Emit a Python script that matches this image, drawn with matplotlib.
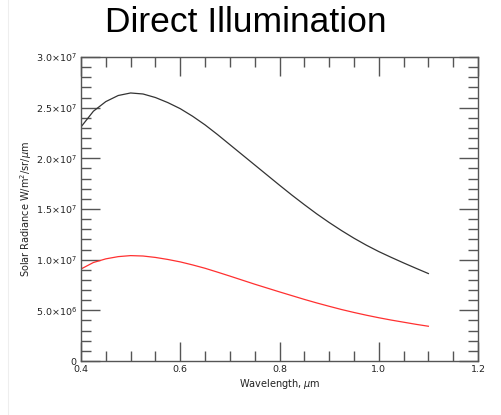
import matplotlib
matplotlib.use("Agg")
import matplotlib.pyplot as plt
from matplotlib.ticker import MultipleLocator, FuncFormatter
from matplotlib.lines import Line2D

# Wavelength grid (micrometres)
wavelength = [0.400, 0.425, 0.450, 0.475, 0.500, 0.525, 0.550, 0.575, 0.600,
              0.625, 0.650, 0.675, 0.700, 0.725, 0.750, 0.775, 0.800, 0.825,
              0.850, 0.875, 0.900, 0.925, 0.950, 0.975, 1.000, 1.025, 1.050,
              1.075, 1.100]

# Solar radiance, units of 1e7 W/m^2/sr/um
radiance_top = [2.31, 2.465, 2.56, 2.62, 2.645, 2.635, 2.60, 2.55, 2.49,
                2.415, 2.33, 2.235, 2.135, 2.035, 1.935, 1.835, 1.735, 1.637,
                1.543, 1.452, 1.367, 1.287, 1.212, 1.143, 1.08, 1.023, 0.968,
                0.915, 0.863]
radiance_surface = [0.908, 0.972, 1.008, 1.03, 1.04, 1.036, 1.022, 1.002, 0.978,
                    0.948, 0.915, 0.877, 0.838, 0.798, 0.758, 0.72, 0.682, 0.645,
                    0.608, 0.573, 0.54, 0.508, 0.479, 0.452, 0.427, 0.404, 0.383,
                    0.362, 0.343]

scale = 1e7

fig = plt.figure(figsize=(5.02, 4.15), dpi=100)
fig.patch.set_facecolor("white")

ax = fig.add_axes([81 / 502, 1 - 361 / 415, 397 / 502, 304 / 415])

ax.plot(wavelength, [v * scale for v in radiance_top], color="#333333", lw=0.9)
ax.plot(wavelength, [v * scale for v in radiance_surface], color="#ff3030", lw=0.9)

ax.set_xlim(0.4, 1.2)
ax.set_ylim(0, 3.0e7)

ax.xaxis.set_major_locator(MultipleLocator(0.2))
ax.xaxis.set_minor_locator(MultipleLocator(0.05))
ax.yaxis.set_major_locator(MultipleLocator(5e6))
ax.yaxis.set_minor_locator(MultipleLocator(1e6))


def sci_label(v, pos):
    if v == 0:
        return "0"
    exp = int(f"{v:.1e}".split("e")[1])
    mant = v / 10 ** exp
    return rf"{mant:.1f}$\times$10$^{{{exp}}}$"


ax.yaxis.set_major_formatter(FuncFormatter(sci_label))
ax.xaxis.set_major_formatter(FuncFormatter(lambda v, p: f"{v:.1f}"))

edge = "#555555"
for s in ax.spines.values():
    s.set_color(edge)
    s.set_linewidth(1.0)

ax.tick_params(which="both", direction="in", top=True, right=True,
               colors=edge, labelcolor="#222222", labelsize=6.8, width=1.0)
ax.tick_params(which="major", length=14, pad=3)
ax.tick_params(which="minor", length=7)

ax.set_xlabel(r"Wavelength, $\mu$m", fontsize=7, color="#222222", labelpad=2)
ax.set_ylabel(r"Solar Radiance W/m$^2$/sr/$\mu$m", fontsize=7,
              color="#222222", labelpad=1)

fig.text(246 / 502, 1 - 22 / 415, "Direct Illumination",
         fontsize=25.5, family="Liberation Sans", ha="center", va="center",
         color="black")

# thin page border line on the left
fig.add_artist(Line2D([8 / 502, 8 / 502], [0, 1], transform=fig.transFigure,
                      color="#eeeeee", lw=0.8))

fig.savefig("out.png", dpi=100)
